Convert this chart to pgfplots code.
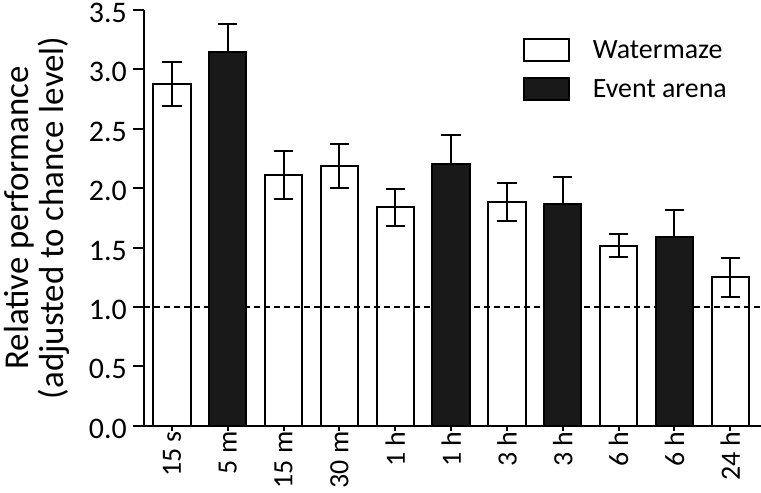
\documentclass[border=0pt]{standalone}
\usepackage{fontspec}
\setmainfont{Carlito}
\usepackage{pgfplots}
\pgfplotsset{compat=1.18}
\begin{document}
\begin{tikzpicture}
\begin{axis}[
  scale only axis, width=617bp, height=415.7bp,
  xmin=-0.5, xmax=10.55, ymin=0, ymax=3.5,
  axis lines=left,
  axis line style={-, line width=2bp, black},
  every tick/.style={line width=2bp, black},
  major tick length=11bp,
  xtick align=center, ytick align=outside,
  xtick={0,...,10},
  xticklabels={15 s,5 m,15 m,30 m,1 h,1 h,3 h,3 h,6 h,6 h,24 h},
  xticklabel style={rotate=90, anchor=east, inner sep=0pt, font=\fontsize{28}{32}\selectfont},
  ytick={0,0.5,...,3.5},
  yticklabel style={inner sep=0pt, xshift=-6bp, yshift=-3bp, font=\fontsize{30}{36}\selectfont,
    /pgf/number format/.cd, fixed, fixed zerofill, precision=1, assume math mode=true},
  ylabel={Relative performance\\(adjusted to chance level)},
  ylabel style={align=center, at={(axis description cs:-0.1742,0.5)}, anchor=center,
    font=\fontsize{35}{35}\selectfont},
  legend cell align=left,
  legend style={draw=none, fill=none, inner sep=0pt, anchor=north west,
    at={(axis description cs:0.6138,0.932)}, row sep=15bp,
    nodes={inner sep=0pt}, font=\fontsize{28}{32}\selectfont},
  legend image code/.code={
    \draw[#1, line width=2bp] (0bp,-11bp) rectangle (45bp,11bp);
    \path (68bp,0bp);
  },
  error bars/y explicit,
  error bars/error bar style={line width=2bp, black},
  error bars/error mark options={rotate=90, mark size=9.7bp, line width=2bp, black},
]
\addplot[ybar, bar width=37.3bp, bar shift=0pt, draw=black, fill=white, line width=2bp,
  error bars/y dir=both]
  coordinates {
    (0,2.88) +- (0,0.185)
    (2,2.11) +- (0,0.205)
    (3,2.19) +- (0,0.185)
    (4,1.84) +- (0,0.155)
    (6,1.885) +- (0,0.16)
    (8,1.515) +- (0,0.095)
    (10,1.25) +- (0,0.165)
  };
\addlegendentry{Watermaze}
\addplot[forget plot, black, line width=1.5bp, dash pattern=on 6bp off 4bp]
  coordinates {(-0.5,1) (10.55,1)};
\addplot[ybar, bar width=37.3bp, bar shift=0pt, draw=black, fill=black!90, line width=2bp,
  error bars/y dir=plus]
  coordinates {
    (1,3.145) +- (0,0.235)
    (5,2.205) +- (0,0.245)
    (7,1.87) +- (0,0.228)
    (9,1.585) +- (0,0.234)
  };
\addlegendentry{Event arena}
\end{axis}
\pgfresetboundingbox
\path[use as bounding box] (-144bp,-67.3bp) rectangle (617bp,425.7bp);
\end{tikzpicture}
\end{document}
